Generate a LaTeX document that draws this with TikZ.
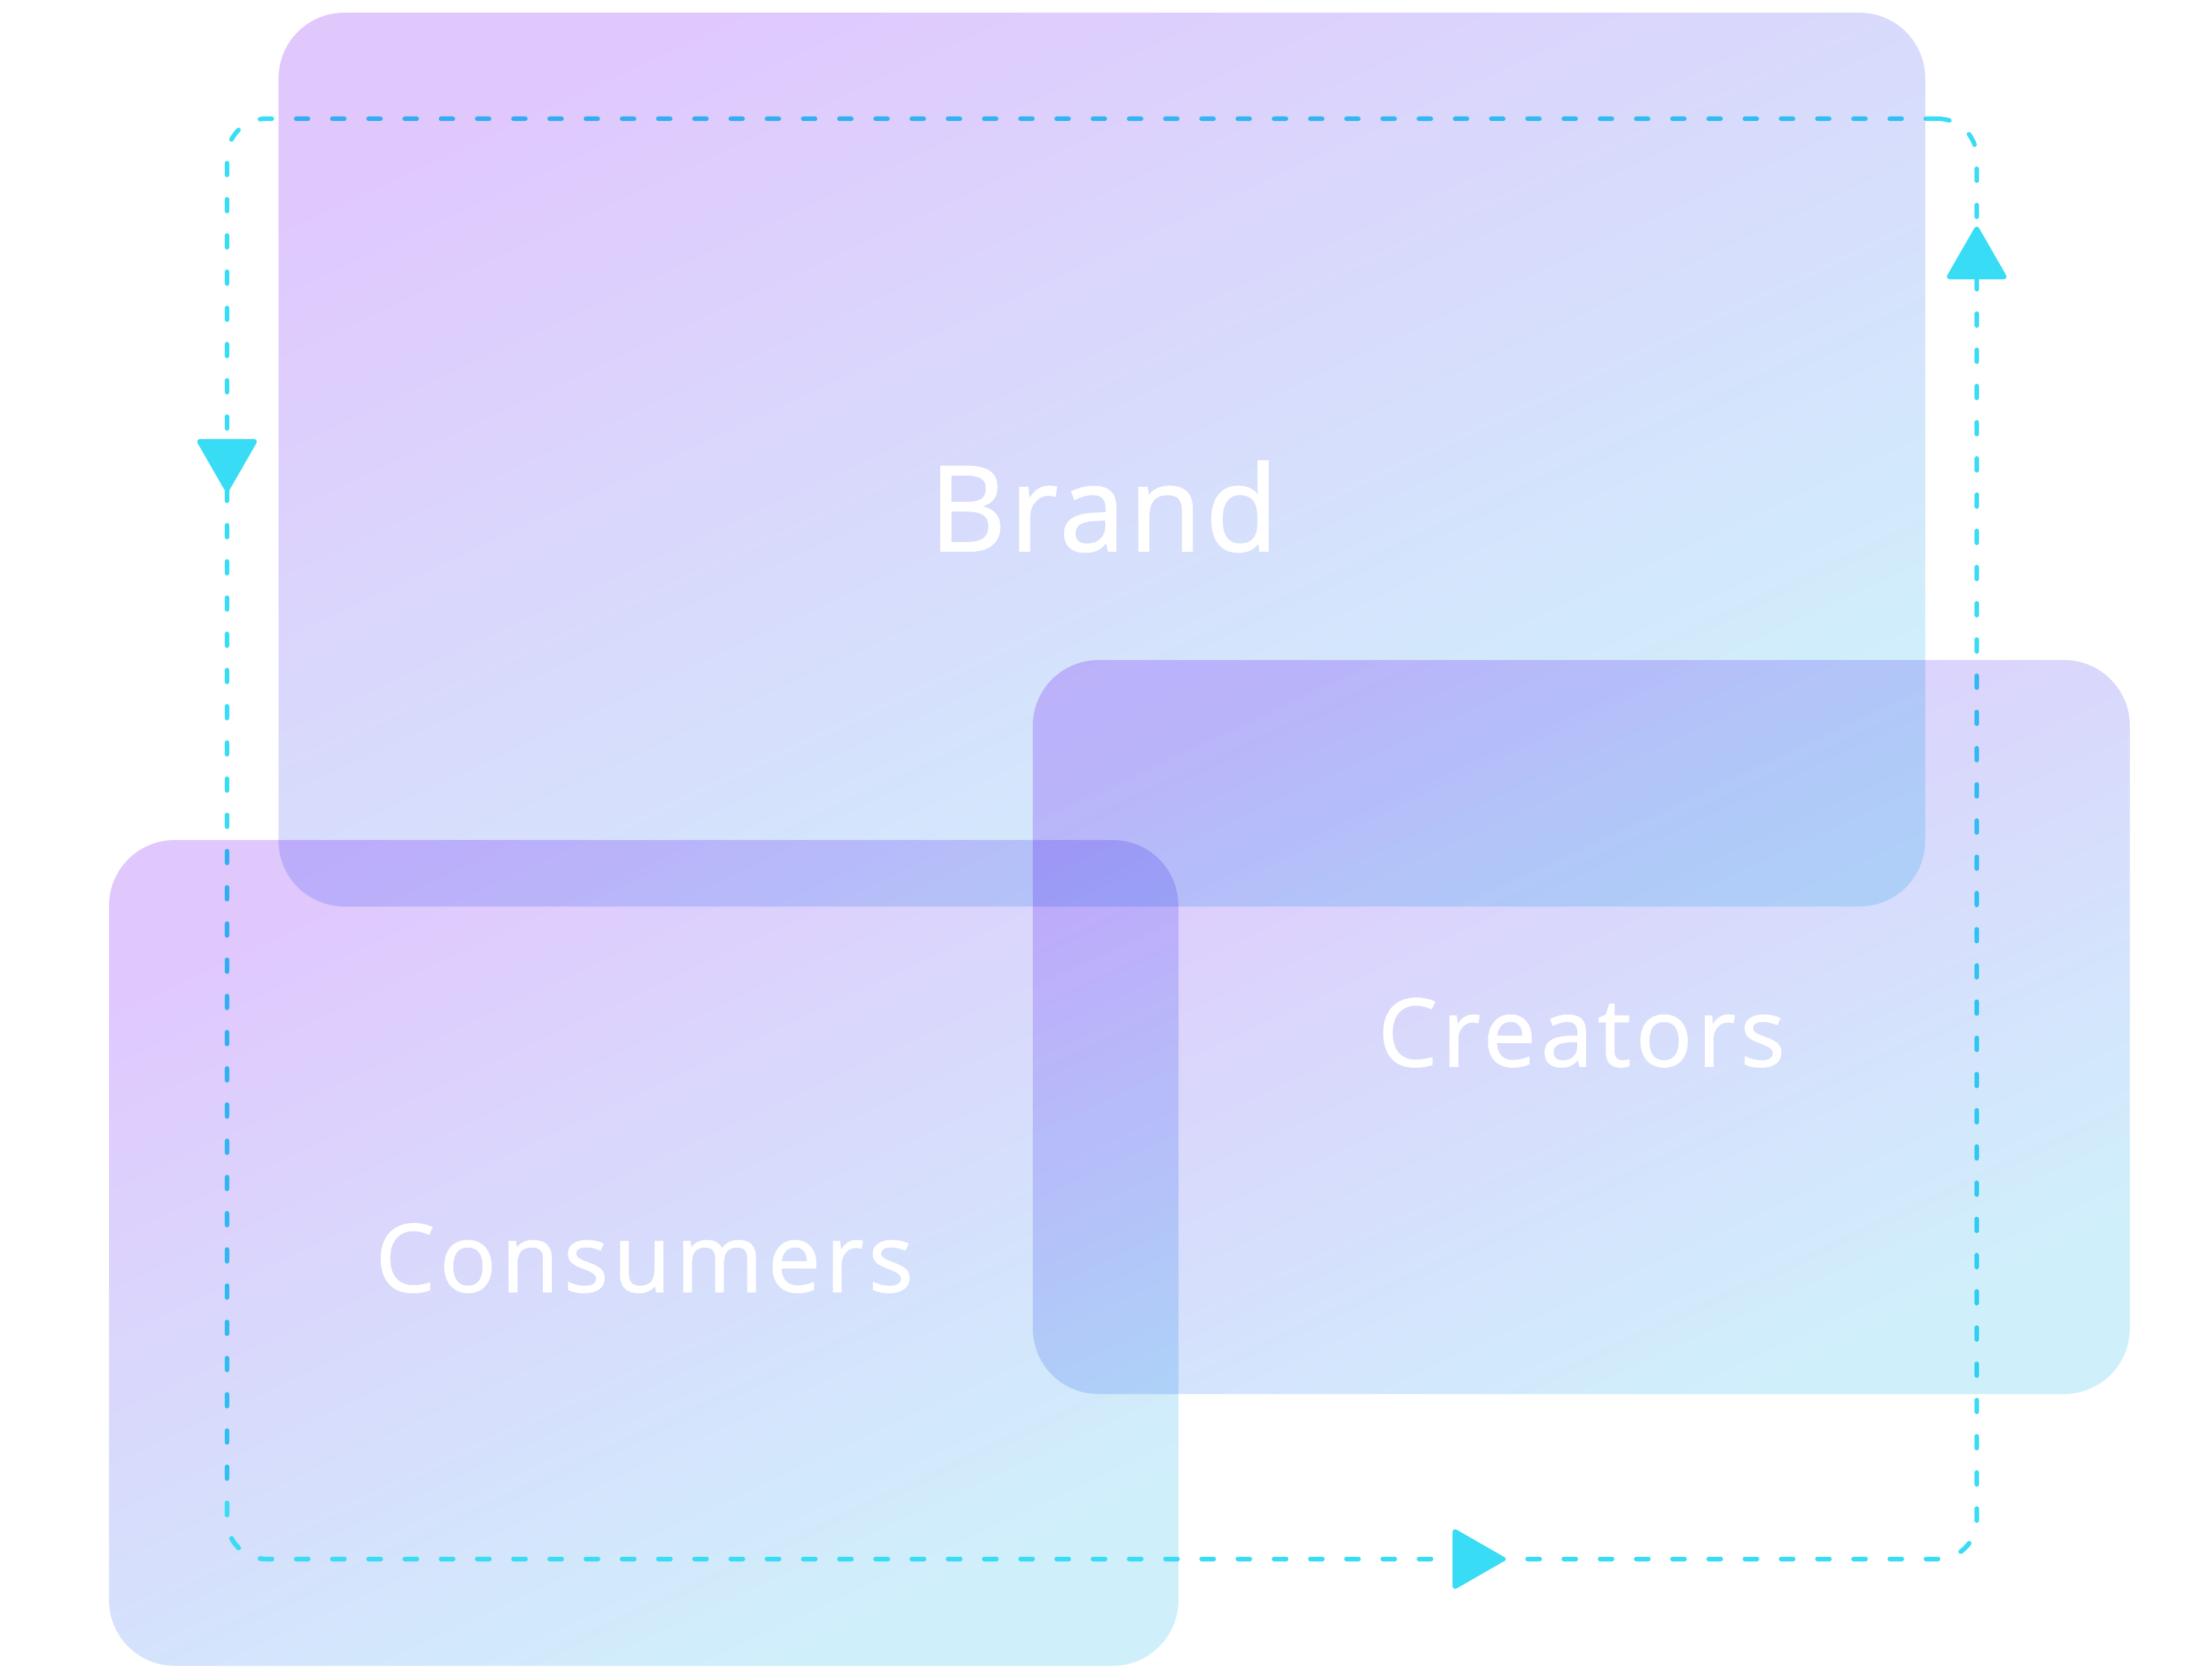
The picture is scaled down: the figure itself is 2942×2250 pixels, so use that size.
\documentclass[tikz,border=0pt]{standalone}
\usepackage{fontspec}
\usepackage{xcolor}
\usepackage{tikz}
\newfontfamily\labelfont{Open Sans}[FakeBold=1.2]

\definecolor{boxtop}{HTML}{E0C8FD}
\definecolor{boxbot}{HTML}{CFF0FB}
\definecolor{loopcyan}{HTML}{38DDF5}

\begin{document}
\begin{tikzpicture}[x=1pt, y=-1pt,
    group/.style={top color=boxtop, bottom color=boxbot, shading angle=25,
                  rounded corners=88pt, blend mode=multiply},
    loopline/.style={draw=loopcyan, line width=6pt, line cap=round,
                     dash pattern=on 16pt off 32.5pt, rounded corners=52pt},
    grouplabel/.style={text=white, anchor=base, inner sep=0pt},
    pics/tri/.style={code={
        \fill[loopcyan, rounded corners=7pt] (-37,-42.5) -- (37,0) -- (-37,42.5) -- cycle;
    }}]
    \useasboundingbox (0,0) rectangle (2942,2250);

    % corners of the loop
    \coordinate (tl) at (304,159);
    \coordinate (bl) at (304,2088);
    \coordinate (br) at (2647,2088);
    \coordinate (tr) at (2647,159);

    \draw[loopline] (tr) -- (tl) -- (bl) -- (br) -- cycle; % loop

    \shade[group] (373,17) rectangle (2578,1214); % brand
    \shade[group] (1383,884) rectangle (2852,1867); % creators
    \shade[group] (146,1125) rectangle (1578,2231); % consumers

    % bottom run sits above the consumers box
    \begin{scope}
        \clip (0,1990) rectangle (2942,2250);
        \draw[loopline] (tr) -- (tl) -- (bl) -- (br) -- cycle;
    \end{scope}

    \pic[rotate=-90] (down) at (304,625) {tri}; % tl-bl
    \pic (right) at (1982,2088) {tri}; % bl-br
    \pic[rotate=90] (up) at (2647,337) {tri}; % br-tr

    \node[grouplabel, font=\labelfont\addfontfeatures{LetterSpace=3}\fontsize{159}{159}\selectfont] (brand) at (1478,738) {Brand};
    \node[grouplabel, font=\labelfont\addfontfeatures{LetterSpace=5}\fontsize{126}{126}\selectfont] (creators) at (2118,1428) {Creators};
    \node[grouplabel, font=\labelfont\addfontfeatures{LetterSpace=5}\fontsize{126}{126}\selectfont] (consumers) at (863,1730) {Consumers};
\end{tikzpicture}
\end{document}
